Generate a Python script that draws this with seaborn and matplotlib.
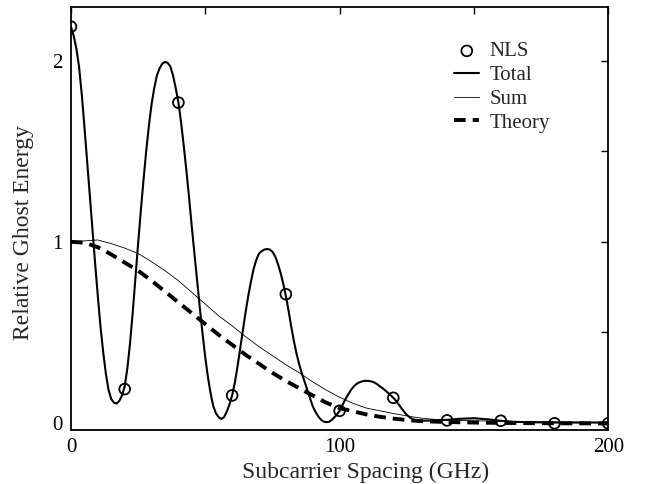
import numpy as np
import pandas as pd
import matplotlib
matplotlib.use("Agg")
import matplotlib.pyplot as plt
import seaborn as sns

# ---- data ----
nls_x = [0, 20, 40, 60, 80, 100, 120, 140, 160, 180, 200]
nls_y = [2.19, 0.185, 1.77, 0.15, 0.71, 0.065, 0.137, 0.012, 0.01, -0.004, -0.004]

total_x = [0, 1, 2, 3, 4, 5, 6, 7, 8, 9, 10, 11, 12, 13, 14, 15, 16, 17, 18, 19,
           20, 21, 22, 23, 24, 25, 26, 27, 28, 29, 30, 31, 32, 33, 34, 35, 36, 37, 38, 39,
           40, 41, 42, 43, 44, 45, 46, 47, 48, 49, 50, 51, 52, 53, 54, 55, 56, 57, 58, 59,
           60, 61, 62, 63, 64, 65, 66, 67, 68, 69, 70, 71, 72, 73, 74, 75, 76, 77, 78, 79,
           80, 81, 82, 83, 84, 85, 86, 87, 88, 89, 90, 91, 92, 93, 94, 95, 96, 97, 98, 99,
           100, 101, 102, 103, 104, 105, 106, 107, 108, 109, 110, 111, 112, 113, 114, 115,
           116, 117, 118, 119, 120, 121, 122, 123, 124, 125, 126, 127, 128, 129, 130,
           135, 140, 145, 150, 155, 160, 165, 170, 180, 190, 200]
total_y = [2.19, 2.14, 2.07, 1.97, 1.82, 1.64, 1.45, 1.26, 1.07, 0.88, 0.70, 0.53, 0.39, 0.27, 0.18, 0.13, 0.11, 0.105, 0.12, 0.15,
           0.20, 0.30, 0.44, 0.61, 0.80, 0.99, 1.17, 1.34, 1.50, 1.64, 1.76, 1.85, 1.92, 1.96, 1.985, 1.995, 1.99, 1.97, 1.92, 1.85,
           1.77, 1.66, 1.53, 1.39, 1.24, 1.08, 0.93, 0.78, 0.63, 0.49, 0.36, 0.25, 0.16, 0.09, 0.05, 0.03, 0.02, 0.03, 0.06, 0.10,
           0.15, 0.22, 0.31, 0.41, 0.51, 0.61, 0.70, 0.78, 0.85, 0.90, 0.935, 0.948, 0.957, 0.96, 0.957, 0.945, 0.92, 0.88, 0.83, 0.77,
           0.70, 0.62, 0.53, 0.45, 0.38, 0.32, 0.27, 0.225, 0.18, 0.135, 0.09, 0.06, 0.035, 0.017, 0.006, 0.002, 0.004, 0.013, 0.028, 0.045,
           0.065, 0.095, 0.125, 0.15, 0.175, 0.195, 0.21, 0.22, 0.226, 0.23, 0.231, 0.23, 0.227, 0.221, 0.212, 0.20,
           0.19, 0.178, 0.165, 0.151, 0.137, 0.12, 0.10, 0.08, 0.06, 0.043, 0.03, 0.02, 0.014, 0.011, 0.01,
           0.012, 0.015, 0.021, 0.024, 0.018, 0.01, 0.004, 0.002, 0.0, 0.0, 0.0]

sum_x = [0, 5, 10, 15, 20, 25, 30, 35, 40, 45, 50, 55, 60, 65, 70, 75, 80, 85, 90, 95,
         100, 105, 110, 115, 120, 125, 130, 135, 140, 150, 160, 180, 200]
sum_y = [1.0, 1.005, 1.01, 0.99, 0.965, 0.935, 0.89, 0.84, 0.785, 0.72, 0.655, 0.59, 0.535, 0.475, 0.42, 0.37, 0.32, 0.275, 0.225, 0.18,
         0.14, 0.106, 0.08, 0.065, 0.05, 0.037, 0.025, 0.018, 0.014, 0.01, 0.007, 0.003, 0.001]

theory_x = [0, 5, 10, 15, 20, 25, 30, 35, 40, 45, 50, 55, 60, 65, 70, 75, 80, 85, 90, 95,
            100, 105, 110, 115, 120, 125, 130, 140, 150, 160, 180, 200]
theory_y = [1.0, 0.995, 0.97, 0.93, 0.885, 0.84, 0.785, 0.725, 0.665, 0.605, 0.545, 0.485, 0.43, 0.375, 0.325, 0.275, 0.23, 0.19, 0.15, 0.11,
            0.08, 0.062, 0.045, 0.032, 0.022, 0.014, 0.008, 0.003, 0.0, -0.002, -0.004, -0.005]

x_ticks = [0, 50, 100, 150, 200]
x_ticklabels = ["0", "", "100", "", "200"]
y_ticks = [0, 0.5, 1, 1.5, 2]
y_ticklabels = ["0", "", "1", "", "2"]

# ---- style ----
sns.set_theme(style="white")
plt.rcParams["font.family"] = ["Liberation Serif", "DejaVu Serif"]

fig = plt.figure(figsize=(6.45, 4.84), dpi=100)
ax = fig.add_axes([0.110, 0.112, 0.833, 0.874])

sns.lineplot(x=total_x, y=total_y, ax=ax, color="black", linewidth=1.5, label="Total", zorder=3)
sns.lineplot(x=sum_x, y=sum_y, ax=ax, color="black", linewidth=0.6, label="Sum", zorder=2)
sns.lineplot(x=theory_x, y=theory_y, ax=ax, color="black", linewidth=2.8, label="Theory",
             linestyle=(0, (3, 1.8)), zorder=2)
sns.scatterplot(x=nls_x, y=nls_y, ax=ax, marker="o", s=60, facecolor="none",
                edgecolor="black", linewidth=1.3, label="NLS", zorder=4)

ax.set_xlim(0, 200)
ax.set_ylim(-0.04, 2.3)
ax.set_xticks(x_ticks)
ax.set_xticklabels(x_ticklabels)
ax.set_yticks(y_ticks)
ax.set_yticklabels(y_ticklabels)
ax.tick_params(direction="in", length=5, width=1, top=True, right=True,
               labelsize=15, colors="black", pad=6)
for s in ax.spines.values():
    s.set_color("black")
    s.set_linewidth(1.3)

ax.set_xlabel("Subcarrier Spacing (GHz)", fontsize=17)
ax.set_ylabel("Relative Ghost Energy", fontsize=17)
ax.xaxis.set_label_coords(0.548, -0.075)
ax.yaxis.set_label_coords(-0.069, 0.466)

handles, labels = ax.get_legend_handles_labels()
order = [labels.index(n) for n in ["NLS", "Total", "Sum", "Theory"]]
leg = ax.legend([handles[i] for i in order], [labels[i] for i in order],
                loc="upper left", bbox_to_anchor=(0.698, 0.937), frameon=False,
                fontsize=15, handlelength=1.2, handletextpad=0.5, labelspacing=0.2,
                borderaxespad=0)

fig.savefig("out.png", dpi=100)
